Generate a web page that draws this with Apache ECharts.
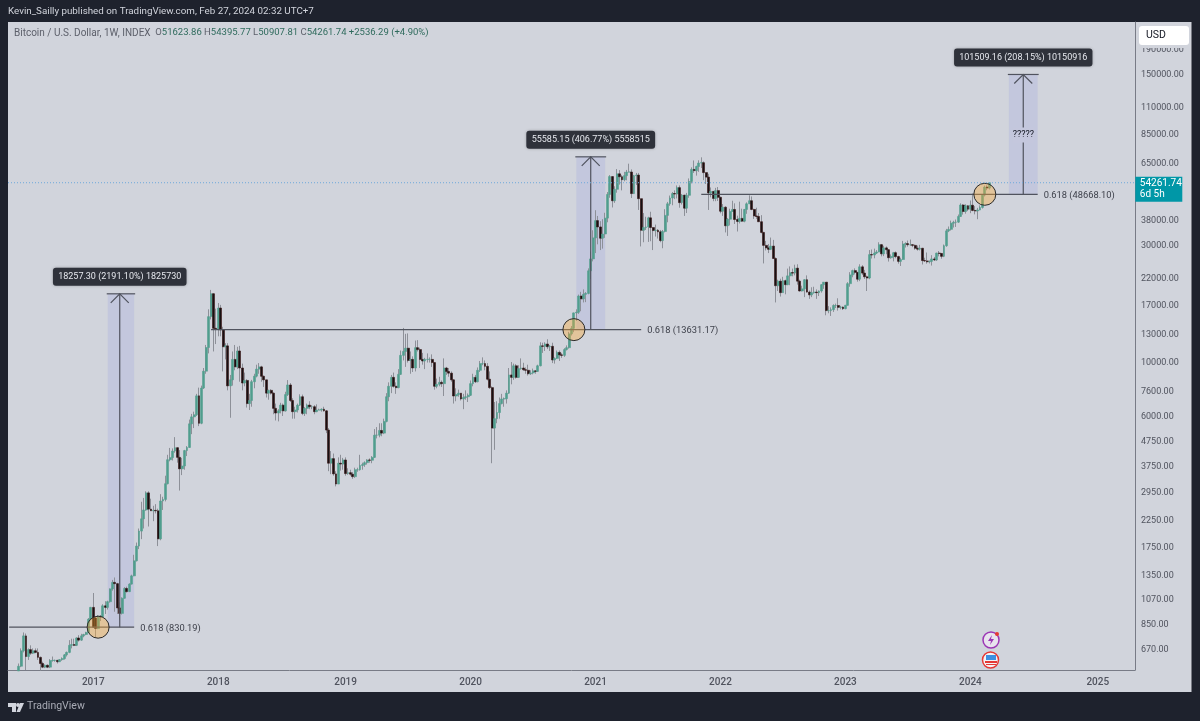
<!DOCTYPE html>
<html>
<head>
<meta charset="utf-8">
<style>
  html, body { margin: 0; padding: 0; background: #1e222d; }
  #chart { width: 1200px; height: 721px; }
</style>
<script src="https://cdn.jsdelivr.net/npm/echarts@6/dist/echarts.min.js"></script>
</head>
<body>
<div id="chart"></div>
<script>
// weekly candles: [open, close, low, high]
const candles2016 = [
  [445,459,440,465],[459,455,448,470],[455,443,436,458],[443,527,437,532],[550,575,550,590],
  [575,665,570,680],[665,765,655,790],[765,630,555,782],[630,672,610,680],
  [672,650,640,700],[650,665,645,680],[665,655,650,680],[655,625,610,680],
  [625,590,552,630],[590,570,565,600],[570,580,565,585],[580,570,565,585],[570,607,565,615],
  [607,607,600,630],[607,608,600,612],[608,600,590,610],[600,612,598,615],
  [612,618,605,625],[618,640,612,645],[640,655,630,660],[655,700,650,735],[700,705,680,745],
  [705,700,695,745],[700,750,695,755],[750,735,725,770],[735,765,730,780],
  [765,775,755,780],[775,790,770,795],[790,895,785,905],[895,1000,885,1005]
];
const candles2017 = [
  [1000,830,825,1145],[905,820,755,915],[820,920,815,930],[920,915,880,930],[915,1015,905,1030],
  [1015,1000,940,1060],[1000,1055,980,1065],[1055,1190,1045,1195],[1190,1265,1170,1295],
  [1265,1250,960,1325],[1250,995,940,1260],[995,945,890,1050],[945,1090,935,1100],
  [1090,1195,1085,1210],[1195,1160,1150,1215],[1160,1245,1155,1255],[1245,1345,1240,1360],
  [1345,1550,1340,1640],[1550,1780,1540,1840],[1780,2050,1730,2100],[2050,2300,1900,2700],[2300,2500,2100,2800],
  [2500,2935,2480,2980],[2935,2520,2140,2980],[2520,2480,2480,2780],[2480,2490,2250,2600],
  [2490,2480,2420,2640],[2480,1905,1780,2530],[1905,2720,1880,2900],[2720,2760,2500,2830],[2760,3200,2710,3450],
  [3200,4010,3180,4200],[4010,4090,3950,4480],[4090,4350,3980,4460],[4350,4490,4280,4960],
  [4490,4100,3900,4500],[4100,3680,3000,4390],[3680,3780,3470,4080],[3780,4370,3650,4400],
  [4370,4500,4150,4560],[4500,5620,4480,5850],[5620,6000,5100,6170],[6000,6120,5400,6300],[6120,7310,6050,7450],
  [7310,5650,5500,7900],[5650,7870,5600,8050],[7870,9220,7800,9500],[9220,11520,9000,11800],
  [11520,15400,10900,16500],[15400,19100,15000,19800],[19100,13800,11100,19200],[13800,13700,11900,16600]
];
const candles2018 = [
  [13700,16700,12800,17500],[16700,13600,12800,17200],[13600,11600,9200,14000],[11600,11700,10300,12000],[11700,8030,7700,12000],
  [8030,8500,5950,8900],[8500,10300,8050,11100],[10300,9600,9300,11800],[9600,11150,9400,11600],
  [11150,9500,8350,11700],[9500,8250,7700,9900],[8250,8450,8000,9100],[8450,6800,6550,8550],
  [6800,7000,6400,7450],[7000,8350,6600,8500],[8350,8800,7850,9000],[8800,9400,8700,9800],[9400,9600,9000,9950],
  [9600,8790,8350,9700],[8790,8500,7950,8850],[8500,7500,7200,8500],[7500,7700,7050,7750],
  [7700,7500,7400,7790],[7500,6500,6150,7550],[6500,6220,5800,6800],[6220,6350,5750,6450],
  [6350,6700,6200,6850],[6700,6350,6050,6800],[6350,7400,6300,7600],[7400,8100,7300,8480],[8100,7000,6900,8250],
  [7000,6300,5900,7150],[6300,6400,5900,6600],[6400,6700,6250,6800],[6700,7250,6650,7420],
  [7250,6200,6100,7400],[6200,6500,6050,6580],[6500,6700,6150,6800],[6700,6600,6450,6950],
  [6600,6600,6450,6700],[6600,6300,6150,6700],[6300,6400,6270,6750],[6400,6400,6380,6480],[6400,6450,6300,6500],
  [6450,6350,6300,6600],[6350,5300,5150,6400],[5300,3880,3600,5400],[3880,4050,3500,4350],
  [4050,3510,3450,4250],[3510,3190,3120,3600],[3190,3880,3200,4100],[3880,3850,3620,4200],[3850,4000,3650,4080]
];
const candles2019 = [
  [4000,3520,3450,4100],[3520,3550,3480,3700],[3550,3500,3450,3650],[3500,3420,3350,3570],
  [3420,3650,3380,3720],[3650,3650,3580,3720],[3650,3800,3620,4200],[3800,3830,3650,3900],
  [3830,3900,3750,3950],[3900,4000,3830,4030],[4000,3990,3900,4060],[3990,4100,3880,4150],
  [4100,5050,4080,5350],[5050,5050,4900,5450],[5050,5280,4950,5650],[5280,5150,5000,5650],[5150,5750,5100,5900],
  [5750,7250,5700,7500],[7250,8000,6950,8300],[8000,8700,7500,8900],[8700,8000,7900,9100],
  [8000,7900,7450,8300],[7900,8950,7850,9400],[8950,10700,8900,11200],[10700,11100,10200,13850],
  [11100,11450,9600,13100],[11450,10200,10000,13150],[10200,10300,9000,11100],[10300,9500,9150,10600],[9500,11500,9200,12300],
  [11500,11300,11100,12350],[11300,10300,9500,11500],[10300,10150,9800,10950],[10150,10300,9400,10450],
  [10300,10300,10000,10900],[10300,10300,10000,10500],[10300,10000,9600,10800],[10000,8000,7750,10000],[8000,8150,7850,8600],
  [8150,8300,8000,8750],[8300,8200,7950,8450],[8200,9500,7300,10400],[9500,9200,8900,9600],
  [9200,9050,8750,9500],[9050,8500,8350,9200],[8500,7300,6800,8550],[7300,7400,6950,7850],
  [7400,7500,7250,7750],[7500,7100,7000,7500],[7100,7200,6450,7450],[7200,7250,7050,7700],[7250,7350,6900,7480]
];
const candles2020 = [
  [7350,8200,7300,8450],[8200,8700,8000,9000],[8700,8350,8250,8900],[8350,9300,8300,9550],
  [9300,9900,9150,10150],[9900,9900,9750,10500],[9900,9650,9300,10200],[9650,8550,8450,9950],
  [8550,7900,7800,9200],[7900,5400,3880,8000],[5400,5900,4400,6900],[5900,6250,5650,6950],[6250,6800,5900,7200],
  [6800,7100,6750,7450],[7100,7120,6600,7200],[7120,7500,6800,7700],[7500,8900,7450,9500],
  [8900,8700,8150,10050],[8700,9700,8500,9900],[9700,8700,8600,9850],[8700,9450,8650,9750],
  [9450,9500,9350,10400],[9500,9350,9250,9980],[9350,9300,9000,9550],[9300,9000,8850,9800],[9000,9070,8900,9300],
  [9070,9250,8950,9450],[9250,9200,9000,9300],[9200,9700,9150,9800],[9700,11700,9650,12100],
  [11700,11650,10950,12050],[11650,11900,11150,12100],[11900,11600,11350,12450],[11600,11650,11150,11800],[11650,10250,9950,12050],
  [10250,10400,9900,10500],[10400,11000,10350,11200],[11000,10750,10150,11200],[10750,10700,10450,10950],
  [10700,11300,10550,11450],[11300,11500,11200,11750],[11500,13100,11400,13350],[13100,13800,12900,14100],
  [13800,15950,13300,16000],[15950,16050,14800,16500],[16050,18700,15800,18950],[18700,18200,16200,19450],[18200,19000,17600,19900],
  [19000,19150,17650,19400],[19150,23700,19000,24250],[23700,26500,21900,28400],[26500,32300,25900,34700]
];
const candles2021 = [
  [32300,38000,28000,41900],[38000,35800,30400,39700],[35800,32200,28800,37800],[32200,33500,29200,38500],
  [33500,38900,32300,40900],[38900,48600,37400,49700],[48600,57500,47100,58300],[57500,45800,43000,57700],
  [45800,51000,44900,52500],[51000,59000,49400,61700],[59000,57400,53300,61100],[57400,55800,50500,58400],[55800,58000,55000,60100],
  [58000,60000,55500,61200],[60000,60000,59700,64900],[60000,49000,47000,61500],[49000,58000,48800,58400],
  [58000,58300,53100,59500],[58300,46700,42000,59500],[46700,34700,29800,46700],[34700,35600,31000,40800],[35600,35800,34800,39400],
  [35800,39000,31100,39400],[39000,35600,31300,41300],[35600,34600,28800,35700],[34600,34700,32700,36600],
  [34700,34200,32100,35100],[34200,31500,31000,34800],[31500,34300,29300,34800],[34300,39900,34000,42300],
  [39900,44500,37400,45300],[44500,47000,43700,48100],[47000,49000,43900,49700],[49000,48800,46500,50500],[48800,51800,46800,52900],
  [51800,45000,42900,52900],[45000,48300,44200,48800],[48300,42700,39700,48400],[42700,48200,40800,49300],
  [48200,54900,47100,56500],[54900,61500,53900,62700],[61500,60800,59500,66900],[60800,63200,58000,63700],
  [63200,65300,60100,67000],[65300,65500,62300,68900],[65500,59700,55600,66300],[59700,57200,53600,59600],[57200,49300,42000,59000],
  [49300,50000,47300,51900],[50000,46800,45600,50200],[46800,50400,45600,51700],[50400,47300,45700,52100]
];
const candles2022 = [
  [47300,41500,40700,47600],[41500,43100,39700,44400],[43100,36200,34000,43500],[36200,38500,32900,38900],[38500,41400,36300,42500],
  [41400,42200,41300,45800],[42200,38400,36800,44700],[38400,37700,34300,39800],[37700,38800,37000,45400],
  [38800,37800,37500,42500],[37800,42200,37400,42400],[42200,44500,40500,45100],[44500,45800,44400,48200],
  [45800,42200,41900,47700],[42200,39700,38600,42500],[39700,39500,38600,42900],[39500,37600,37600,40800],
  [37600,34000,33700,40000],[34000,30100,25400,34200],[30100,29400,28700,31400],[29400,29000,28000,30500],[29000,29900,28800,32400],
  [29900,26600,26600,31700],[26600,20600,17600,26900],[20600,21500,19600,21800],[21500,19300,18600,22000],
  [19300,21600,19300,22400],[21600,20800,19000,21800],[20800,22600,20700,24200],[22600,23300,20700,24700],
  [23300,23200,22500,24200],[23200,24300,22700,25100],[24300,21500,20800,25200],[21500,19600,19500,21800],[19600,20000,19500,20600],
  [20000,21800,18500,21900],[21800,19400,19300,22700],[19400,18900,18200,19700],[18900,19300,18500,20300],
  [19300,19400,19100,20400],[19400,19300,18200,19900],[19300,19600,18700,19700],[19600,20800,19300,20900],[20800,21300,20000,21300],
  [21300,16300,15600,21300],[16300,16300,15900,17000],[16300,16450,15500,16800],[16450,17100,16100,17300],
  [17100,17100,16700,17400],[17100,16800,16300,18300],[16800,16850,16500,17050],[16850,16600,16400,16950]
];
const candles2023 = [
  [16600,17130,16500,17200],[17130,21000,17100,21300],[21000,22800,20400,23400],[22800,23750,22300,23950],[23750,23350,22900,24250],
  [23350,21900,21400,23450],[21900,24600,21500,25200],[24600,23200,22800,25000],[23200,22400,21950,23900],
  [22400,22150,19600,22650],[22150,27600,21900,28800],[27600,27500,26600,28950],[27500,28000,26650,29200],
  [28000,28300,27750,28800],[28300,30300,28200,31000],[30300,27800,27150,30500],[27800,29400,27200,30000],
  [29400,28900,27700,29800],[28900,26800,25850,29000],[26800,27100,26550,27650],[27100,28100,25900,28300],[28100,27100,26650,28450],
  [27100,25900,25350,27300],[25900,26350,24800,26800],[26350,30500,26300,31400],[30500,30600,29500,31000],
  [30600,30300,29750,31500],[30300,30300,29950,31800],[30300,30100,29600,30400],[30100,29300,28900,30350],[29300,29050,28650,30050],
  [29050,29300,28700,30250],[29300,26100,25150,29400],[26100,26000,25750,26800],[26000,25800,25350,28150],
  [25800,25900,25400,26100],[25900,26500,24900,27450],[26500,26250,26000,27000],[26250,28000,26000,28100],
  [28000,27900,27150,28550],[27900,27150,26550,27950],[27150,30000,26950,30350],[30000,34500,29700,35150],[34500,35000,34100,35950],
  [35000,37100,34600,38000],[37100,37400,35600,37950],[37400,37450,35800,38400],[37450,39500,37200,40250],
  [39500,44000,39350,44700],[44000,41400,40200,44400],[41400,43700,40550,44300],[43700,42300,41550,43850]
];
const candles2024 = [
  [42300,43900,40750,45900],[43900,41800,41500,49050],[41800,41600,40300,43550],[41600,42000,38500,42850],[42000,43000,41850,43850],
  [43000,48300,42550,48500],[48300,52100,47700,52850],[52100,51623.86,50550,52950],[51623.86,54261.74,50907.81,54395.77]
];
const allCandles = [].concat(candles2016, candles2017, candles2018, candles2019, candles2020,
  candles2021, candles2022, candles2023, candles2024);

// week-start labels, running on past the last candle up to the chart's empty right side
const weeks = [];
for (let i = 0; i < 469; i++) {
  weeks.push(new Date(Date.UTC(2016, 4, 2 + i * 7)).toISOString().slice(0, 10));
}
const yearStarts = { '2017-01-02': '2017', '2018-01-01': '2018', '2019-01-07': '2019', '2020-01-06': '2020',
  '2021-01-04': '2021', '2022-01-03': '2022', '2023-01-02': '2023', '2024-01-01': '2024', '2025-01-06': '2025' };
const priceTicks = [670, 850, 1070, 1350, 1750, 2250, 2950, 3750, 4750, 6000, 7600, 10000, 13000, 17000,
  22000, 30000, 38000, 65000, 85000, 110000, 150000, 190000];

// fib levels and measured moves drawn on the chart
const levelNames = ['0.618 (830.19)', '0.618 (13631.17)', '0.618 (48668.10)'];
const levelPrices = [830.19, 13631.17, 48668.10];
const levelStarts = ['2016-05-02', '2017-12-11', '2021-11-08'];
const levelEnds = ['2017-05-01', '2021-05-17', '2024-07-15'];
const boxStarts = ['2017-02-13', '2020-11-09', '2024-04-22'];
const boxMiddles = ['2017-03-20', '2020-12-21', '2024-06-03'];
const boxEnds = ['2017-05-01', '2021-02-01', '2024-07-15'];
const boxTops = [19087.49, 69216.32, 150177.26];
const boxTexts = ['18257.30 (2191.10%) 1825730', '55585.15 (406.77%) 5558515', '101509.16 (208.15%) 10150916'];
const circleWeeks = ['2017-01-16', '2020-11-02', '2024-02-12'];
const lastClose = 54261.74;
const lineColor = '#50535e';

const wickData = allCandles;
const bodyData = allCandles.map(c => [c[0], c[1], Math.min(c[0], c[1]), Math.max(c[0], c[1])]);
const idx = d => weeks.indexOf(d);

const chart = echarts.init(document.getElementById('chart'));
const font = 'Roboto';

chart.setOption({
  animation: false,
  backgroundColor: '#1e222d',
  title: [
    { text: 'Kevin_Sailly published on TradingView.com, Feb 27, 2024 02:32 UTC+7', left: 8, top: 7, padding: 0,
      textStyle: { color: '#d1d4dc', fontSize: 9.8, fontWeight: 'normal', fontFamily: font } },
    { text: '{g|Bitcoin / U.S. Dollar, 1W, INDEX}{n|  O}{v|51623.86}{n| H}{v|54395.77}{n| L}{v|50907.81}{n| C}{v|54261.74}{n| }{v|+2536.29 (+4.90%)}',
      left: 14, top: 28, padding: 0,
      textStyle: { fontWeight: 'normal', rich: {
        g: { color: '#5d606b', fontSize: 10, fontFamily: font, fontWeight: 'normal' },
        n: { color: '#5d606b', fontSize: 9.5, fontFamily: font, fontWeight: 'normal' },
        v: { color: '#2f6b5d', fontSize: 9.5, fontFamily: font, fontWeight: 'normal' }
      } } }
  ],
  graphic: [
    { type: 'rect', z: -10, silent: true, shape: { x: 8, y: 22, width: 1183.5, height: 670 }, style: { fill: '#d1d4dc' } },
    { type: 'rect', z: 10, shape: { x: 1137, y: 24, width: 54, height: 24 }, style: { fill: '#d1d4dc' } },
    { type: 'rect', z: 10, shape: { x: 1139, y: 26, width: 50, height: 19, r: 3 }, style: { fill: '#ffffff' } },
    { type: 'text', z: 11, style: { x: 1146, y: 30, text: 'USD', fill: '#131722', font: '10.5px Roboto' } },
    // tradingview mark and name
    { type: 'polygon', z: 10, shape: { points: [[8, 703], [16, 703], [16, 712], [12, 712], [12, 707], [8, 707]] }, style: { fill: '#d1d4dc' } },
    { type: 'circle', z: 10, shape: { cx: 18, cy: 705, r: 2 }, style: { fill: '#d1d4dc' } },
    { type: 'polygon', z: 10, shape: { points: [[20, 703], [24, 703], [20, 712], [16.5, 712]] }, style: { fill: '#d1d4dc' } },
    { type: 'text', z: 10, style: { x: 27, y: 701, text: 'TradingView', fill: '#a8abb5', font: '10.5px Roboto' } },
    // news and event icons
    { type: 'circle', z: 10, shape: { cx: 991, cy: 640, r: 8 }, style: { fill: '#e8e3ee', stroke: '#9c36b5', lineWidth: 1.5 } },
    { type: 'polygon', z: 11, shape: { points: [[992, 635], [988, 641], [991, 641], [990, 645], [994, 639], [991, 639]] }, style: { fill: '#9c36b5' } },
    { type: 'circle', z: 11, shape: { cx: 997, cy: 634, r: 2 }, style: { fill: '#e53935' } },
    { type: 'circle', z: 10, shape: { cx: 990.5, cy: 660, r: 8 }, style: { fill: '#f4f4f6', stroke: '#e53935', lineWidth: 1.5 } },
    { type: 'rect', z: 11, shape: { x: 986, y: 655, width: 10, height: 5 }, style: { fill: '#3d8fe0' } },
    { type: 'rect', z: 11, shape: { x: 985, y: 661, width: 12, height: 2 }, style: { fill: '#e53935' } },
    { type: 'rect', z: 11, shape: { x: 986, y: 664, width: 10, height: 1 }, style: { fill: '#e53935' } }
  ],
  grid: { left: 8, top: 22, width: 1127, height: 648, show: false },
  xAxis: {
    type: 'category',
    data: weeks,
    axisLine: { show: true, lineStyle: { color: '#787b86', width: 1 } },
    axisTick: { show: false },
    splitLine: { show: false },
    axisLabel: {
      interval: (i, v) => v in yearStarts,
      formatter: v => yearStarts[v] || '',
      color: '#50535e', fontSize: 10, fontFamily: font, fontWeight: 500, margin: 7, hideOverlap: false
    }
  },
  yAxis: {
    type: 'log',
    logBase: 10,
    position: 'right',
    min: 555,
    max: 246000,
    axisLine: { show: true, lineStyle: { color: '#787b86', width: 1 } },
    axisTick: { show: false },
    splitLine: { show: false },
    minorTick: { show: false },
    axisLabel: {
      customValues: priceTicks,
      formatter: v => Number(v).toFixed(2),
      color: '#50535e', fontSize: 9, fontFamily: font, margin: 6, padding: [2, 0, 0, 0]
    }
  },
  series: [
    {
      // shaded measured-move boxes sit behind the candles
      type: 'custom', name: 'boxes', z: 1, silent: true,
      data: levelPrices.map((p, i) => [idx(boxStarts[i]), p, idx(boxEnds[i]), boxTops[i]]),
      renderItem: (params, api) => {
        const a = api.coord([api.value(0), api.value(1)]);
        const b = api.coord([api.value(2), api.value(3)]);
        return { type: 'rect', shape: { x: a[0], y: b[1], width: b[0] - a[0], height: a[1] - b[1] },
          style: { fill: 'rgba(120,130,225,0.15)' } };
      }
    },
    {
      type: 'candlestick', name: 'wicks', z: 2, barWidth: 1, data: wickData, silent: true,
      itemStyle: { color: 'rgba(0,0,0,0)', color0: 'rgba(0,0,0,0)', borderColor: '#8d9098', borderColor0: '#8d9098', borderWidth: 1 }
    },
    {
      type: 'candlestick', name: 'Bitcoin / U.S. Dollar', z: 3, barWidth: 2.4, data: bodyData, silent: true,
      itemStyle: { color: '#4f9e8e', color0: '#171012', borderColor: '#579f90', borderColor0: '#3a1616', borderWidth: 0.6 }
    },
    {
      // fib levels, arrows and price tags
      type: 'custom', name: 'levels', z: 4, silent: true,
      data: levelPrices.map((p, i) => [idx(levelStarts[i]), p]),
      renderItem: (params, api) => {
        const i = params.dataIndex;
        const p = levelPrices[i];
        const from = api.coord([idx(levelStarts[i]), p]);
        const to = api.coord([idx(levelEnds[i]), p]);
        const mid = api.coord([idx(boxMiddles[i]), boxTops[i]]);
        const capL = api.coord([idx(boxStarts[i]), boxTops[i]]);
        const capR = api.coord([idx(boxEnds[i]), boxTops[i]]);
        const line = { stroke: lineColor, lineWidth: 1.2, fill: 'none' };
        const kids = [
          { type: 'line', shape: { x1: from[0], y1: from[1], x2: to[0], y2: to[1] }, style: line },
          { type: 'line', shape: { x1: mid[0], y1: from[1], x2: mid[0], y2: mid[1] }, style: line },
          { type: 'line', shape: { x1: capL[0] - 1, y1: mid[1], x2: capR[0] + 1, y2: mid[1] }, style: line },
          { type: 'polyline', shape: { points: [[mid[0] - 9, mid[1] + 9], [mid[0], mid[1]], [mid[0] + 9, mid[1] + 9]] }, style: line },
          { type: 'text', style: { x: to[0] + 6, y: from[1] + 1, text: levelNames[i], fill: '#3c3f49', font: '9.3px Roboto', textVerticalAlign: 'middle' } }
        ];
        const w = boxTexts[i].length * 4.8 + 4;
        kids.push({ type: 'rect', shape: { x: mid[0] - w / 2, y: mid[1] - 26, width: w, height: 18, r: 3 },
          style: { fill: '#2f323b', shadowBlur: 3, shadowColor: 'rgba(0,0,0,0.25)' } });
        kids.push({ type: 'text', style: { x: mid[0], y: mid[1] - 17, text: boxTexts[i], fill: '#e6e8ee',
          font: '9px Roboto', textAlign: 'center', textVerticalAlign: 'middle' } });
        return { type: 'group', children: kids };
      }
    },
    {
      // the question marks on the projected move
      type: 'custom', name: 'question', z: 5, silent: true,
      data: [[idx(boxMiddles[2]), 85000]],
      renderItem: (params, api) => {
        const c = api.coord([api.value(0), api.value(1)]);
        return { type: 'text', style: { x: c[0], y: c[1], text: '?????', fill: '#131722', font: '9px Roboto',
          textAlign: 'center', textVerticalAlign: 'middle', backgroundColor: '#c4c7dd', padding: [3, 0] } };
      }
    },
    {
      type: 'custom', name: 'circles', z: 6, silent: true,
      data: levelPrices.map((p, i) => [idx(circleWeeks[i]), p]),
      renderItem: (params, api) => {
        const c = api.coord([api.value(0), api.value(1)]);
        return { type: 'circle', shape: { cx: c[0], cy: c[1], r: 11 },
          style: { fill: 'rgba(255,170,50,0.38)', stroke: '#2a2a2a', lineWidth: 1 } };
      }
    },
    {
      // dotted last price line and its tag on the axis
      type: 'custom', name: 'last price', z: 7, silent: true,
      data: [[0, lastClose]],
      renderItem: (params, api) => {
        const a = api.coord([0, api.value(1)]);
        const b = api.coord([weeks.length - 1, api.value(1)]);
        return { type: 'group', children: [
          { type: 'line', shape: { x1: 8, y1: a[1], x2: b[0] + 1, y2: a[1] },
            style: { stroke: '#6ea8dc', lineWidth: 1, lineDash: [1, 2] } },
          { type: 'rect', shape: { x: b[0] + 1.5, y: a[1] - 6, width: 47, height: 25 }, style: { fill: '#0097a7' } },
          { type: 'text', style: { x: b[0] + 6, y: a[1] - 4, text: '54261.74', fill: '#ffffff', font: '10px Roboto' } },
          { type: 'text', style: { x: b[0] + 6, y: a[1] + 7, text: '6d 5h', fill: '#ffffff', font: '10px Roboto' } }
        ] };
      }
    }
  ]
});
</script>
</body>
</html>
